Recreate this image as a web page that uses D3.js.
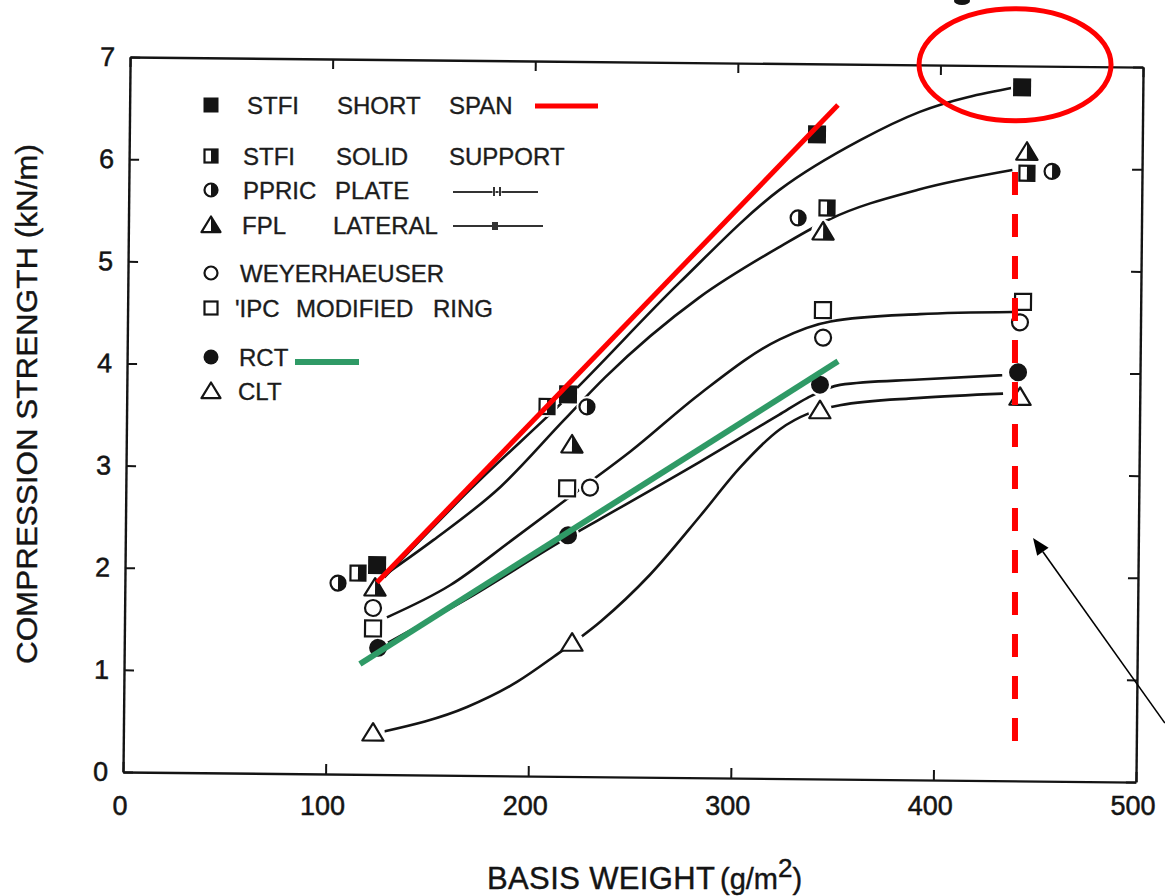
<!DOCTYPE html>
<html>
<head>
<meta charset="utf-8">
<script src="https://cdn.jsdelivr.net/npm/d3@7"></script>
<style>
  body { margin: 0; background: #fff; }
  svg { display: block; font-family: "Liberation Sans", Arial, Helvetica, sans-serif; }
</style>
</head>
<body>
<svg id="chart" width="1165" height="896"></svg>
<script>
// ---- data: [basis weight g/m2, compression strength kN/m] ----
const stfiShortSpan    = [[124.4, 2.05], [217.8, 3.74], [339.4, 6.31], [440.4, 6.79]];
const stfiSolidSupport = [[115.0, 1.97], [207.5, 3.62], [344.7, 5.59], [443.2, 5.95]];
const ppricPlate       = [[105.2, 1.87], [227.2, 3.62], [330.5, 5.49], [455.6, 5.97]];
const fplLateral       = [[123.5, 1.83], [220.0, 3.25], [342.9, 5.36], [443.1, 6.16]];
const weyerhaeuser     = [[122.6, 1.63], [229.1, 2.83], [343.4, 4.32], [440.5, 4.49]];
const ipcModifiedRing  = [[122.7, 1.43], [217.8, 2.82], [343.2, 4.59], [441.9, 4.69]];
const rct              = [[125.3, 1.24], [218.5, 2.36], [342.1, 3.86], [439.8, 4.00]];
const clt              = [[123.2, 0.41], [221.0, 1.31], [342.2, 3.61], [440.9, 3.76]];

// faired trend curves through the test groups
const trendShortSpan = [[128, 1.93], [170, 2.80], [219, 3.74], [272, 4.84], [321, 5.76], [361, 6.26], [390, 6.54], [437, 6.79]];
const trendPlate     = [[130, 1.98], [152, 2.30], [185, 2.83], [216, 3.49], [236, 3.91], [282, 4.70], [322, 5.21], [346, 5.48], [390, 5.78], [436, 5.98]];
const trendRing      = [[129.5, 1.54], [160.5, 1.86], [191, 2.31], [224, 2.81], [249, 3.19], [283, 3.76], [322, 4.30], [347, 4.48], [391, 4.56], [437, 4.59]];
const trendRct       = [[130, 1.29], [170, 1.74], [215, 2.30], [234, 2.52], [283, 3.09], [322, 3.56], [336, 3.73], [352, 3.86], [391, 3.92], [432, 3.97]];
const trendClt       = [[128, 0.42], [169.5, 0.67], [194, 0.92], [212, 1.17], [235, 1.52], [259, 1.98], [283.5, 2.56], [303, 3.04], [322.6, 3.42], [337, 3.58], [352, 3.66], [391.5, 3.74], [432.5, 3.79]];

// axis ticks
const xTicks = [0, 100, 200, 300, 400, 500];
const yTicks = [0, 1, 2, 3, 4, 5, 6, 7];

// legend
const legendSymbols = ["filledSquare", "halfSquare", "halfCircle", "halfTriangle", "openCircle", "openSquare", "filledCircle", "openTriangle"];
const legendWords = [
  ["STFI", "SHORT", "SPAN"],
  ["STFI", "SOLID", "SUPPORT"],
  ["PPRIC", "PLATE"],
  ["FPL", "LATERAL"],
  ["WEYERHAEUSER"],
  ["'IPC", "MODIFIED", "RING"],
  ["RCT"],
  ["CLT"]
];

// highlight overlays (data coordinates)
const trendHighlightHigh = [[124.4, 1.88], [349.6, 6.60]];
const trendHighlightLow  = [[116.4, 1.08], [350.9, 4.09]];
const peakCallout        = [436.8, 7.01];
const weightMarker       = [[437.3, 5.96], [440.1, 0.38]];
const pointerArrow       = [[514, 0.58], [448, 2.38]];

// ---- layout ----
const svg = d3.select("#chart");
const originX = 123, originY = 772;
const plotW = 1013, plotH = 715;
const tilt = 0.57; // degrees
const rad = tilt * Math.PI / 180, cosT = Math.cos(rad), sinT = Math.sin(rad);
const ink = "#141414";

const x = d3.scaleLinear().domain([0, 500]).range([0, plotW]);
const y = d3.scaleLinear().domain([0, 7]).range([0, -plotH]);

function toScreen(p) {
  const lx = x(p[0]), ly = y(p[1]);
  return [originX + lx * cosT - ly * sinT, originY + lx * sinT + ly * cosT];
}

const plot = svg.append("g").attr("transform", `translate(${originX},${originY}) rotate(${tilt})`);

// frame and inward ticks
function styleAxis(g) {
  g.selectAll("path.domain").attr("stroke", ink).attr("stroke-width", 2.4);
  g.selectAll(".tick line").attr("stroke", ink).attr("stroke-width", 2);
}
plot.append("g")
  .call(d3.axisBottom(x).tickValues(xTicks).tickSizeInner(-10).tickSizeOuter(0).tickFormat(""))
  .call(styleAxis);
plot.append("g").attr("transform", `translate(0,${-plotH})`)
  .call(d3.axisTop(x).tickValues(xTicks).tickSizeInner(-10).tickSizeOuter(0).tickFormat(""))
  .call(styleAxis);
plot.append("g").attr("transform", `translate(${plotW},0)`)
  .call(d3.axisRight(y).tickValues(yTicks).tickSizeInner(-10).tickSizeOuter(0).tickFormat(""))
  .call(styleAxis);
const leftAxis = plot.append("g")
  .call(d3.axisLeft(y).tickValues(yTicks).tickSizeInner(-10).tickSizeOuter(0).tickPadding(15).tickFormat(d3.format("d")))
  .call(styleAxis);
leftAxis.selectAll(".tick text").attr("font-size", 27).attr("fill", ink)
  .attr("stroke", ink).attr("stroke-width", 0.5)
  .attr("font-family", "'Liberation Sans', Arial, sans-serif");

// x tick labels (set level below the frame)
svg.append("g").selectAll("text").data(xTicks).join("text")
  .attr("x", d => toScreen([d, 0])[0] - 3)
  .attr("y", 815)
  .attr("text-anchor", "middle")
  .attr("font-size", 27)
  .attr("fill", ink)
  .attr("stroke", ink).attr("stroke-width", 0.5)
  .text(d => d);

// axis titles
const xt = svg.append("text").attr("x", 487).attr("y", 889).attr("fill", ink)
  .attr("stroke", ink).attr("stroke-width", 0.4);
xt.append("tspan").attr("font-size", 31).attr("textLength", 228).text("BASIS WEIGHT");
xt.append("tspan").attr("font-size", 29).attr("x", 720).text("(g/m");
xt.append("tspan").attr("font-size", 26).attr("dy", -12).text("2");
xt.append("tspan").attr("font-size", 29).attr("dy", 12).text(")");

svg.append("text")
  .attr("transform", "translate(37,404) rotate(-90)")
  .attr("text-anchor", "middle")
  .attr("font-size", 30)
  .attr("textLength", 520)
  .attr("lengthAdjust", "spacingAndGlyphs")
  .attr("fill", ink)
  .attr("stroke", ink).attr("stroke-width", 0.4)
  .text("COMPRESSION STRENGTH (kN/m)");

// trend curves
const line = d3.line().x(d => x(d[0])).y(d => y(d[1])).curve(d3.curveMonotoneX);
plot.append("g").selectAll("path")
  .data([trendShortSpan, trendPlate, trendRing, trendRct, trendClt])
  .join("path")
  .attr("d", line)
  .attr("fill", "none")
  .attr("stroke", ink)
  .attr("stroke-width", 2.6);

// marker glyphs
function drawSymbol(g, type, cx, cy, s) {
  const h = s / 2, sw = 2.2;
  if (type === "filledSquare") {
    g.append("rect").attr("x", cx - h).attr("y", cy - h).attr("width", s).attr("height", s).attr("fill", ink);
  } else if (type === "openSquare") {
    g.append("rect").attr("x", cx - h + 1).attr("y", cy - h + 1).attr("width", s - 2).attr("height", s - 2)
      .attr("fill", "#fff").attr("stroke", ink).attr("stroke-width", sw);
  } else if (type === "halfSquare") {
    g.append("rect").attr("x", cx - h + 1).attr("y", cy - h + 1).attr("width", s - 2).attr("height", s - 2)
      .attr("fill", "#fff").attr("stroke", ink).attr("stroke-width", sw);
    g.append("rect").attr("x", cx).attr("y", cy - h + 1).attr("width", h - 1).attr("height", s - 2).attr("fill", ink);
  } else if (type === "filledCircle") {
    g.append("circle").attr("cx", cx).attr("cy", cy).attr("r", h).attr("fill", ink);
  } else if (type === "openCircle") {
    g.append("circle").attr("cx", cx).attr("cy", cy).attr("r", h - 1)
      .attr("fill", "#fff").attr("stroke", ink).attr("stroke-width", sw);
  } else if (type === "halfCircle") {
    const r = h - 1;
    g.append("circle").attr("cx", cx).attr("cy", cy).attr("r", r)
      .attr("fill", "#fff").attr("stroke", ink).attr("stroke-width", sw);
    g.append("path").attr("d", `M${cx},${cy - r}A${r},${r} 0 0 1 ${cx},${cy + r}Z`).attr("fill", ink);
  } else if (type === "openTriangle" || type === "halfTriangle") {
    const w = s * 0.56, top = cy - s * 0.5, bot = cy + s * 0.42;
    g.append("path").attr("d", `M${cx},${top}L${cx + w},${bot}L${cx - w},${bot}Z`)
      .attr("fill", "#fff").attr("stroke", ink).attr("stroke-width", sw).attr("stroke-linejoin", "round");
    if (type === "halfTriangle") {
      g.append("path").attr("d", `M${cx},${top}L${cx + w},${bot}L${cx},${bot}Z`).attr("fill", ink);
    }
  }
}

const seriesList = [
  { pts: stfiShortSpan,    sym: "filledSquare", size: 18 },
  { pts: stfiSolidSupport, sym: "halfSquare",   size: 17 },
  { pts: ppricPlate,       sym: "halfCircle",   size: 17 },
  { pts: fplLateral,       sym: "halfTriangle", size: 19 },
  { pts: weyerhaeuser,     sym: "openCircle",   size: 18 },
  { pts: ipcModifiedRing,  sym: "openSquare",   size: 18 },
  { pts: rct,              sym: "filledCircle", size: 18 },
  { pts: clt,              sym: "openTriangle", size: 19 }
];

// white gaps where curves meet the symbols
const halos = plot.append("g");
seriesList.forEach(s => s.pts.forEach(p => {
  halos.append("circle").attr("cx", x(p[0])).attr("cy", y(p[1])).attr("r", s.size * 0.62).attr("fill", "#fff");
}));
const marks = plot.append("g");
seriesList.forEach(s => s.pts.forEach(p => drawSymbol(marks, s.sym, x(p[0]), y(p[1]), s.size)));

// legend
const legendRowY = [105, 156, 190, 225, 273, 308, 357, 391];
const legendWordX = [[247, 337, 449], [243, 336, 449], [243, 335], [242, 333], [240], [235, 296, 433], [239], [238]];
const legend = svg.append("g");
legendSymbols.forEach((sym, i) => {
  drawSymbol(legend, sym, 211, legendRowY[i], sym === "halfTriangle" || sym === "openTriangle" ? 17 : 15);
  legendWords[i].forEach((w, j) => {
    legend.append("text").attr("x", legendWordX[i][j]).attr("y", legendRowY[i]).attr("dy", "0.36em")
      .attr("font-size", 24).attr("fill", "#1c1c1c")
      .attr("stroke", "#1c1c1c").attr("stroke-width", 0.35).text(w);
  });
});
// line-style keys for PPRIC and FPL
const keyStroke = "#333";
[[453, 538, 192], [453, 543, 226]].forEach(([a, b, yy], k) => {
  legend.append("line").attr("x1", a).attr("x2", b).attr("y1", yy).attr("y2", yy)
    .attr("stroke", keyStroke).attr("stroke-width", 2);
  if (k === 0) {
    [494, 500].forEach(xx => legend.append("line").attr("x1", xx).attr("x2", xx)
      .attr("y1", yy - 5).attr("y2", yy + 4).attr("stroke", "#fff").attr("stroke-width", 3));
    [494, 500].forEach(xx => legend.append("line").attr("x1", xx).attr("x2", xx)
      .attr("y1", yy - 5).attr("y2", yy + 4).attr("stroke", keyStroke).attr("stroke-width", 2));
  } else {
    legend.append("rect").attr("x", 492).attr("y", yy - 4).attr("width", 6).attr("height", 8).attr("fill", keyStroke);
  }
});

// stray mark at the top edge
svg.append("ellipse").attr("cx", 962).attr("cy", 1).attr("rx", 8).attr("ry", 4).attr("fill", ink);

// ---- highlight overlays ----
const over = svg.append("g");
const red = "#ff0000", green = "#2f9a66";
const [h1, h2] = trendHighlightHigh.map(toScreen);
over.append("line").attr("x1", h1[0]).attr("y1", h1[1]).attr("x2", h2[0]).attr("y2", h2[1])
  .attr("stroke", red).attr("stroke-width", 5);
const [g1, g2] = trendHighlightLow.map(toScreen);
over.append("line").attr("x1", g1[0]).attr("y1", g1[1]).attr("x2", g2[0]).attr("y2", g2[1])
  .attr("stroke", green).attr("stroke-width", 6);
// legend keys for the highlights
over.append("line").attr("x1", 535).attr("x2", 598).attr("y1", 106).attr("y2", 106).attr("stroke", red).attr("stroke-width", 5);
over.append("line").attr("x1", 295).attr("x2", 359).attr("y1", 362).attr("y2", 362).attr("stroke", green).attr("stroke-width", 6);

const c = toScreen(peakCallout);
over.append("ellipse").attr("cx", c[0]).attr("cy", c[1]).attr("rx", 96).attr("ry", 56)
  .attr("fill", "none").attr("stroke", red).attr("stroke-width", 5);

const [m1, m2] = weightMarker.map(toScreen);
over.append("line").attr("x1", m1[0]).attr("x2", m1[0]).attr("y1", m1[1]).attr("y2", m2[1])
  .attr("stroke", red).attr("stroke-width", 6).attr("stroke-dasharray", "23 19");

const [a1, a2] = pointerArrow.map(toScreen);
const ang = Math.atan2(a2[1] - a1[1], a2[0] - a1[0]);
const headLen = 17, headW = 7;
const bx = a2[0] - headLen * Math.cos(ang), by = a2[1] - headLen * Math.sin(ang);
over.append("line").attr("x1", a1[0]).attr("y1", a1[1]).attr("x2", bx).attr("y2", by)
  .attr("stroke", "#000").attr("stroke-width", 1.6);
over.append("path")
  .attr("d", `M${a2[0]},${a2[1]}L${bx - headW * Math.sin(ang)},${by + headW * Math.cos(ang)}L${bx + headW * Math.sin(ang)},${by - headW * Math.cos(ang)}Z`)
  .attr("fill", "#000");
</script>
</body>
</html>
